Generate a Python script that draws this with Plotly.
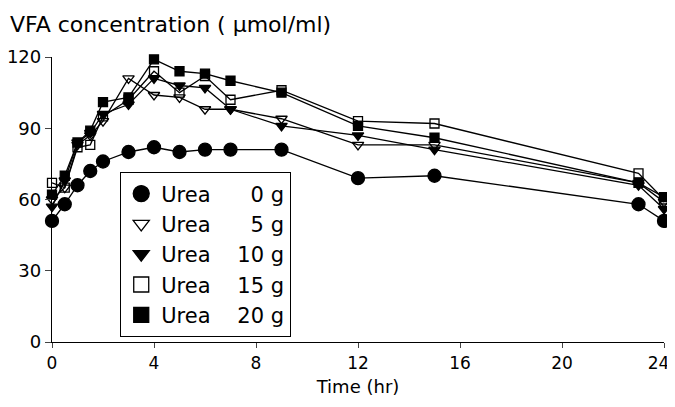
import plotly.graph_objects as go

time_hr = [0, 0.5, 1, 1.5, 2, 3, 4, 5, 6, 7, 9, 12, 15, 23, 24]
urea_0g = [51, 58, 66, 72, 76, 80, 82, 80, 81, 81, 81, 69, 70, 58, 51]
urea_5g = [60, 65, 83, 87, 93, 111, 104, 103, 98, 98, 94, 83, 83, 67, 59]
urea_10g = [57, 68, 84, 88, 96, 100, 111, 108, 107, 98, 91, 87, 81, 66, 56]
urea_15g = [67, 65, 82, 83, 95, 102, 114, 105, 112, 102, 106, 93, 92, 71, 60]
urea_20g = [62, 70, 84, 89, 101, 103, 119, 114, 113, 110, 105, 91, 86, 67, 61]

NB = "\u00a0"
legend_names = ["Urea" + NB * 6 + "0 g",
                "Urea" + NB * 6 + "5 g",
                "Urea" + NB * 4 + "10 g",
                "Urea" + NB * 4 + "15 g",
                "Urea" + NB * 4 + "20 g"]
x_ticks = [0, 4, 8, 12, 16, 20, 24]
x_tick_labels = ["0", "4", "8", "12", "16", "20", "24" + NB * 2]
y_ticks = [0, 30, 60, 90, 120]

series = [urea_0g, urea_5g, urea_10g, urea_15g, urea_20g]
symbols = ["circle", "triangle-down-open", "triangle-down", "square-open", "square"]
sizes = [13, 10, 10, 9, 9]
leg_sizes = [16, 14, 14, 15, 15]

fig = go.Figure()
for vals, sym, sz in zip(series, symbols, sizes):
    fig.add_trace(go.Scatter(
        x=time_hr, y=vals, mode="lines+markers", showlegend=False,
        line=dict(color="black", width=1.3),
        marker=dict(symbol=sym, size=sz, color="black",
                    line=dict(color="black", width=1.3)),
        cliponaxis=False))
for name, sym, sz in zip(legend_names, symbols, leg_sizes):
    fig.add_trace(go.Scatter(
        x=[None], y=[None], mode="markers", name=name,
        marker=dict(symbol=sym, size=sz, color="black",
                    line=dict(color="black", width=1.3))))

font_family = "DejaVu Sans, Liberation Sans, sans-serif"
fig.update_layout(
    width=667, height=391,
    margin=dict(l=44, r=11, t=49, b=57, autoexpand=False),
    paper_bgcolor="white", plot_bgcolor="white",
    font=dict(family=font_family, color="black", size=17),
    showlegend=True,
    legend=dict(x=0.111, y=0.596, xanchor="left", yanchor="top",
                bordercolor="black", borderwidth=1.3, bgcolor="white",
                font=dict(size=21), itemsizing="trace"),
    xaxis=dict(range=[0, 24], tickvals=x_ticks, ticktext=x_tick_labels,
               ticks="outside", ticklen=5,
               tickwidth=1.3, showline=True, linecolor="black", linewidth=1.3,
               showgrid=False, zeroline=False, automargin=False,
               ticklabeloverflow="allow",
               tickfont=dict(size=17),
               title=dict(text="Time (hr)", font=dict(size=18), standoff=8)),
    yaxis=dict(range=[0, 120], tickvals=y_ticks, ticks="outside", ticklen=6,
               tickwidth=1.3, showline=True, linecolor="black", linewidth=1.3,
               showgrid=False, zeroline=False, automargin=False,
               ticklabeloverflow="allow",
               tickfont=dict(size=18)),
    annotations=[dict(text="VFA concentration ( \u03bcmol/ml)", xref="paper", yref="paper",
                      x=-0.072, y=1.0, yshift=33, xanchor="left", yanchor="middle",
                      showarrow=False, font=dict(size=22))],
)

fig.write_html("out.html")
